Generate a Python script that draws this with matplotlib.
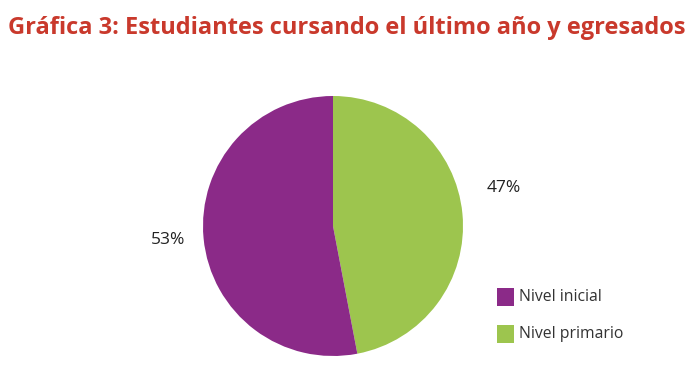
import matplotlib
matplotlib.use("Agg")
import matplotlib.pyplot as plt
import numpy as np
from matplotlib.patches import Rectangle

# Data
categories = ["Nivel primario", "Nivel inicial"]
values = [47, 53]
colors = ["#9DC54E", "#8B2A88"]
legend_order = ["Nivel inicial", "Nivel primario"]
title = "Gráfica 3: Estudiantes cursando el último año y egresados"

plt.rcParams["font.family"] = ["Open Sans", "DejaVu Sans"]

W, H = 691, 377
fig = plt.figure(figsize=(W / 100, H / 100), dpi=100)

# pie axes placed by pixel box (center 333,226 radius 130)
cx, cy, r = 333, 226, 130
ax = fig.add_axes([(cx - r) / W, (H - cy - r) / H, 2 * r / W, 2 * r / H])
wedges, _ = ax.pie(values, colors=colors, startangle=90, counterclock=False,
                   wedgeprops=dict(linewidth=0))
ax.set_xlim(-1, 1)
ax.set_ylim(-1, 1)
ax.set_aspect("equal")
ax.axis("off")

# percentage labels
label_pos = {"Nivel primario": (1.31, 0.29), "Nivel inicial": (-1.27, -0.11)}
for cat, v in zip(categories, values):
    x, y = label_pos[cat]
    ax.text(x, y, f"{v}%", ha="center", va="center", fontsize=12.5,
            color="#222222", clip_on=False)

# title, fitted to width
t = fig.text(8 / W, 1 - 28 / H, title, fontsize=19, fontweight="bold",
             color="#C9392C", ha="left", va="center")
fig.canvas.draw()
bb = t.get_window_extent()
t.set_fontsize(19 * 676 / bb.width)

# legend
for i, name in enumerate(legend_order):
    col = colors[categories.index(name)]
    ytop = 288 + i * 37
    fig.patches.append(Rectangle((497 / W, 1 - (ytop + 18) / H), 17 / W, 18 / H,
                                 transform=fig.transFigure, facecolor=col,
                                 edgecolor="none"))
    fig.text(519 / W, 1 - (ytop + 9) / H, name, fontsize=11.3, color="#333333",
             ha="left", va="center")

fig.savefig("out.png", dpi=100)
